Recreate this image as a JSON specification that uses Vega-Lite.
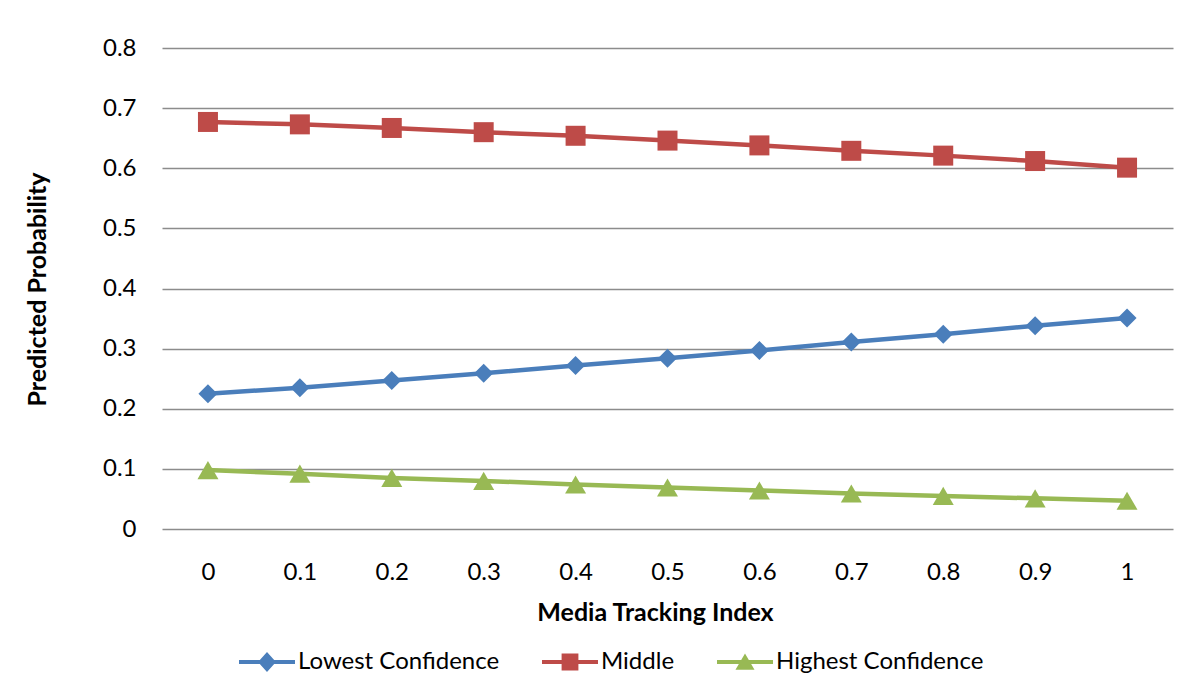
{
  "$schema": "https://vega.github.io/schema/vega-lite/v6.json",
  "width": 1011,
  "height": 481,
  "autosize": {"type": "none"},
  "padding": {"left": 162, "top": 48, "right": 31, "bottom": 169},
  "background": "white",
  "config": {
    "font": "Lato",
    "view": {"stroke": null},
    "axis": {"labelFont": "Lato", "labelFontSize": 24, "labelColor": "#000000", "titleFont": "Lato", "titleFontSize": 25, "titleFontWeight": "bold", "titleColor": "#000000"},
    "legend": {"labelFont": "Lato", "labelFontSize": 24, "labelColor": "#000000", "symbolOpacity": 1, "symbolSize": 3136, "symbolStrokeWidth": 0, "labelOffset": 3, "columnPadding": 42, "labelLimit": 400}
  },
  "data": {
    "values": [
      {"x": 0, "series": "Lowest Confidence", "p": 0.225},
      {"x": 0.1, "series": "Lowest Confidence", "p": 0.235},
      {"x": 0.2, "series": "Lowest Confidence", "p": 0.247},
      {"x": 0.3, "series": "Lowest Confidence", "p": 0.259},
      {"x": 0.4, "series": "Lowest Confidence", "p": 0.272},
      {"x": 0.5, "series": "Lowest Confidence", "p": 0.284},
      {"x": 0.6, "series": "Lowest Confidence", "p": 0.297},
      {"x": 0.7, "series": "Lowest Confidence", "p": 0.311},
      {"x": 0.8, "series": "Lowest Confidence", "p": 0.324},
      {"x": 0.9, "series": "Lowest Confidence", "p": 0.338},
      {"x": 1, "series": "Lowest Confidence", "p": 0.351},
      {"x": 0, "series": "Middle", "p": 0.677},
      {"x": 0.1, "series": "Middle", "p": 0.673},
      {"x": 0.2, "series": "Middle", "p": 0.667},
      {"x": 0.3, "series": "Middle", "p": 0.660},
      {"x": 0.4, "series": "Middle", "p": 0.654},
      {"x": 0.5, "series": "Middle", "p": 0.646},
      {"x": 0.6, "series": "Middle", "p": 0.638},
      {"x": 0.7, "series": "Middle", "p": 0.629},
      {"x": 0.8, "series": "Middle", "p": 0.621},
      {"x": 0.9, "series": "Middle", "p": 0.612},
      {"x": 1, "series": "Middle", "p": 0.601},
      {"x": 0, "series": "Highest Confidence", "p": 0.098},
      {"x": 0.1, "series": "Highest Confidence", "p": 0.092},
      {"x": 0.2, "series": "Highest Confidence", "p": 0.085},
      {"x": 0.3, "series": "Highest Confidence", "p": 0.080},
      {"x": 0.4, "series": "Highest Confidence", "p": 0.074},
      {"x": 0.5, "series": "Highest Confidence", "p": 0.069},
      {"x": 0.6, "series": "Highest Confidence", "p": 0.064},
      {"x": 0.7, "series": "Highest Confidence", "p": 0.059},
      {"x": 0.8, "series": "Highest Confidence", "p": 0.055},
      {"x": 0.9, "series": "Highest Confidence", "p": 0.051},
      {"x": 1, "series": "Highest Confidence", "p": 0.047}
    ]
  },
  "encoding": {
    "x": {
      "field": "x", "type": "ordinal",
      "axis": {"title": "Media Tracking Index", "labelAngle": 0, "domain": false, "ticks": false, "tickSize": 0, "labelPadding": 43, "labelBaseline": "middle", "grid": false, "titleX": 493, "titleY": 83, "titleBaseline": "middle", "titleAlign": "center"}
    },
    "y": {
      "field": "p", "type": "quantitative",
      "scale": {"domain": [0, 0.8], "nice": false, "zero": true},
      "axis": {"title": "Predicted Probability", "values": [0, 0.1, 0.2, 0.3, 0.4, 0.5, 0.6, 0.7, 0.8], "format": "~g", "domain": false, "ticks": false, "tickSize": 0, "labelPadding": 26, "grid": true, "gridColor": "#8c8c8c", "gridWidth": 1.5, "titleX": -125, "titleY": 241, "titleAngle": -90, "titleBaseline": "middle", "titleAlign": "center"}
    }
  },
  "layer": [
    {
      "mark": {"type": "line", "strokeWidth": 4.5},
      "encoding": {
        "color": {
          "field": "series", "type": "nominal",
          "scale": {"domain": ["Lowest Confidence", "Middle", "Highest Confidence"], "range": ["#4A7EBB", "#BE4B48", "#98B954"]},
          "legend": {"title": null, "orient": "none", "legendX": 77, "legendY": 586, "direction": "horizontal"}
        },
        "shape": {
          "field": "series", "type": "nominal",
          "scale": {"domain": ["Lowest Confidence", "Middle", "Highest Confidence"], "range": ["M-1,-0.075H1V0.075H-1Z M-0.32,0L0,-0.36L0.32,0L0,0.36Z", "M-1,-0.075H1V0.075H-1Z M-0.3,-0.3H0.3V0.3H-0.3Z", "M-1,-0.075H1V0.075H-1Z M0,-0.3L0.34,0.28H-0.34Z"]},
          "legend": {"title": null, "orient": "none", "legendX": 77, "legendY": 586, "direction": "horizontal"}
        }
      }
    },
    {
      "mark": {"type": "point", "filled": true, "opacity": 1, "strokeWidth": 0},
      "encoding": {
        "color": {"field": "series", "type": "nominal", "legend": null},
        "shape": {"condition": [{"test": "datum.series === 'Middle'", "value": "square"}, {"test": "datum.series === 'Highest Confidence'", "value": "triangle-up"}], "value": "diamond"},
        "size": {"condition": [{"test": "datum.series === 'Middle'", "value": 400}, {"test": "datum.series === 'Highest Confidence'", "value": 441}], "value": 361}
      }
    }
  ]
}
